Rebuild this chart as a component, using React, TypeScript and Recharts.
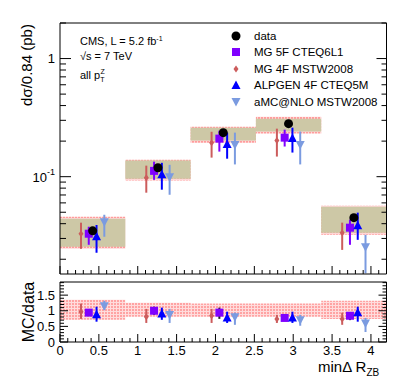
import React from 'react';
import { ComposedChart, XAxis, YAxis, Scatter, ErrorBar, ReferenceArea } from 'recharts';

// binning in min dR(Z,b)
const binEdges = [0, 0.84, 1.68, 2.52, 3.36, 4.2];
const binCenters = [0.42, 1.26, 2.1, 2.94, 3.78];
const mcOffsets = [-0.15, -0.05, 0.05, 0.15]; // MG4, MG5, ALPGEN, aMC@NLO

// data (pb), stat band and total band
const dataVal = [0.0348, 0.119, 0.236, 0.281, 0.045];
const statLo = [0.0255, 0.096, 0.202, 0.241, 0.0335];
const statHi = [0.044, 0.137, 0.26, 0.31, 0.0556];
const totLo = [0.0245, 0.093, 0.194, 0.232, 0.0322];
const totHi = [0.0458, 0.139, 0.265, 0.322, 0.0568];

// predictions
const mg5Val = [0.0329, 0.112, 0.21, 0.214, 0.037];
const mg5Lo = [0.0265, 0.094, 0.163, 0.18, 0.0265];
const mg5Hi = [0.0377, 0.134, 0.245, 0.25, 0.0433];

const mg4Val = [0.0329, 0.098, 0.194, 0.202, 0.0335];
const mg4Lo = [0.0245, 0.0732, 0.145, 0.148, 0.024];
const mg4Hi = [0.0408, 0.124, 0.24, 0.255, 0.0408];

const alpVal = [0.031, 0.104, 0.187, 0.21, 0.0385];
const alpLo = [0.0227, 0.0776, 0.142, 0.16, 0.0292];
const alpHi = [0.039, 0.131, 0.236, 0.26, 0.0496];

const amcVal = [0.0415, 0.1, 0.187, 0.187, 0.0255];
const amcLo = [0.031, 0.0703, 0.127, 0.127, 0.0152];
const amcHi = [0.0476, 0.126, 0.236, 0.241, 0.0322];

// ratio MC/data
const ratioBandLo = [0.71, 0.81, 0.81, 0.81, 0.74];
const ratioBandHi = [1.35, 1.26, 1.23, 1.23, 1.32];

const mg4R = [0.97, 0.81, 0.84, 0.74, 0.74];
const mg4RLo = [0.74, 0.61, 0.61, 0.61, 0.55];
const mg4RHi = [1.23, 1.06, 1.06, 0.87, 0.94];

const mg5R = [0.94, 1.0, 0.94, 0.77, 0.84];
const mg5RLo = [0.85, 0.87, 0.74, 0.7, 0.7];
const mg5RHi = [1.05, 1.13, 1.1, 0.85, 0.94];

const alpR = [0.87, 0.9, 0.77, 0.77, 0.94];
const alpRLo = [0.65, 0.71, 0.61, 0.61, 0.65];
const alpRHi = [1.13, 1.1, 0.97, 0.97, 1.13];

const amcR = [1.16, 0.88, 0.81, 0.71, 0.61];
const amcRLo = [1.03, 0.61, 0.55, 0.52, 0.32];
const amcRHi = [1.32, 1.06, 0.94, 0.87, 0.77];

// ticks
const xMajor = [0, 0.5, 1, 1.5, 2, 2.5, 3, 3.5, 4];
const xAll = Array.from({ length: 43 }, (_, i) => i / 10);
const yTopMajor = [0.1, 1];
const yTopAll = [0.02, 0.03, 0.04, 0.05, 0.06, 0.07, 0.08, 0.09, 0.1, 0.2, 0.3, 0.4, 0.5, 0.6, 0.7, 0.8, 0.9, 1, 2];
const yRatioMajor = [0, 0.5, 1, 1.5];
const yRatioAll = Array.from({ length: 20 }, (_, i) => i / 10);

const FONT = '"Liberation Sans", Arial, Helvetica, sans-serif';
const C_MG5 = '#7f00ff';
const C_MG4 = '#cc5c5c';
const C_ALP = '#0000ff';
const C_AMC = '#7b9be0';
const KHAKI = '#cdc8a6';

type Side = 'left' | 'right' | 'top' | 'bottom';

const isIn = (arr: number[], v: number) => arr.some((m) => Math.abs(m - v) < 1e-9);

const makeTick = (side: Side, majors: number[], majorLen: number, minorLen: number, label?: (v: number) => React.ReactNode) =>
  (props: any) => {
    const { x, y, payload } = props;
    const v = payload.value;
    const major = isIn(majors, v);
    const len = major ? majorLen : minorLen;
    let x2 = x;
    let y2 = y;
    if (side === 'left') x2 = x + len;
    if (side === 'right') x2 = x - len;
    if (side === 'top') y2 = y + len;
    if (side === 'bottom') y2 = y - len;
    return (
      <g>
        <line x1={x} y1={y} x2={x2} y2={y2} stroke="#000" strokeWidth={1} />
        {major && label && side === 'left' && (
          <text x={x - 5} y={y} textAnchor="end" dominantBaseline="central" fontSize={13} fontFamily={FONT} fill="#000">
            {label(v)}
          </text>
        )}
        {major && label && side === 'bottom' && (
          <text x={x} y={y + 8} textAnchor="middle" dominantBaseline="central" fontSize={13} fontFamily={FONT} fill="#000">
            {label(v)}
          </text>
        )}
      </g>
    );
  };

const topLabel = (v: number) =>
  v === 1 ? '1' : (
    <>
      <tspan>10</tspan>
      <tspan dy={-5} fontSize={9}>-1</tspan>
    </>
  );
const plainLabel = (v: number) => String(v);

const tickTopLeft = makeTick('left', yTopMajor, 11, 6, topLabel);
const tickTopRight = makeTick('right', yTopMajor, 10, 5);
const tickTopBottom = makeTick('bottom', xMajor, 8, 4);
const tickTopTop = makeTick('top', xMajor, 8, 4);
const tickRatioLeft = makeTick('left', yRatioMajor, 8, 4, plainLabel);
const tickRatioRight = makeTick('right', yRatioMajor, 8, 4);
const tickRatioBottom = makeTick('bottom', xMajor, 8, 4, plainLabel);

const pts = (off: number, v: number[], lo: number[], hi: number[]) =>
  binCenters.map((c, i) => ({ x: c + off, y: v[i], err: [v[i] - lo[i], hi[i] - v[i]] }));

const dataPts = binCenters.map((c, i) => ({ x: c, y: dataVal[i] }));

const Dot = (p: any) => <circle cx={p.cx} cy={p.cy} r={4.5} fill="#000" />;
const Square = (p: any) => <rect x={p.cx - 4} y={p.cy - 4} width={8} height={8} fill={C_MG5} />;
const Diamond = (p: any) => (
  <polygon points={`${p.cx},${p.cy - 3.5} ${p.cx + 2.5},${p.cy} ${p.cx},${p.cy + 3.5} ${p.cx - 2.5},${p.cy}`} fill={C_MG4} />
);
const TriUp = (p: any) => (
  <polygon points={`${p.cx},${p.cy - 5} ${p.cx + 4.5},${p.cy + 3.5} ${p.cx - 4.5},${p.cy + 3.5}`} fill={C_ALP} />
);
const TriDown = (p: any) => (
  <polygon points={`${p.cx},${p.cy + 5} ${p.cx + 4.5},${p.cy - 3.5} ${p.cx - 4.5},${p.cy - 3.5}`} fill={C_AMC} />
);

const W = 399;
const H = 387;
const LEFT = 60;
const RIGHT = 12.5;

// axes get a 1px band so they are drawn; margins are reduced by the same amount
const axisCommon = {
  tickSize: 0,
  tickMargin: 0,
  tickLine: false,
  interval: 0 as const,
  allowDataOverflow: true,
  axisLine: { stroke: '#000', strokeWidth: 1 },
};

const series = (
  yId: string,
  sets: { v: number[]; lo: number[]; hi: number[]; off: number; color: string; shape: any; name: string }[],
) =>
  sets.map((s) => (
    <Scatter
      key={s.name}
      name={s.name}
      data={pts(s.off, s.v, s.lo, s.hi)}
      xAxisId="b"
      yAxisId={yId}
      shape={s.shape}
      isAnimationActive={false}
    >
      <ErrorBar dataKey="err" direction="y" width={0} stroke={s.color} strokeWidth={2} />
    </Scatter>
  ));

const TopChart = () => (
  <ComposedChart width={W} height={H} margin={{ top: 22, right: RIGHT - 1, bottom: H - 274 - 1, left: LEFT - 1 }}>
    <defs>
      <pattern id="pinkHatch" width={3} height={3} patternUnits="userSpaceOnUse">
        <rect width={3} height={3} fill="#ffd6d6" />
        <rect width={2} height={2} fill="#ff9c9c" />
      </pattern>
    </defs>
    <XAxis xAxisId="b" type="number" dataKey="x" domain={[0, 4.2]} ticks={xAll} height={1} tick={tickTopBottom} {...axisCommon} />
    <XAxis xAxisId="t" orientation="top" type="number" domain={[0, 4.2]} ticks={xAll} height={1} tick={tickTopTop} {...axisCommon} />
    <YAxis yAxisId="l" type="number" dataKey="y" scale="log" domain={[0.015, 2]} ticks={yTopAll} width={1} tick={tickTopLeft} {...axisCommon} />
    <YAxis yAxisId="r" orientation="right" type="number" scale="log" domain={[0.015, 2]} ticks={yTopAll} width={1} tick={tickTopRight} {...axisCommon} />
    {binCenters.map((_, i) => (
      <ReferenceArea key={`tot${i}`} xAxisId="b" yAxisId="l" x1={binEdges[i]} x2={binEdges[i + 1]} y1={totLo[i]} y2={totHi[i]} fill="url(#pinkHatch)" fillOpacity={1} stroke="none" />
    ))}
    {binCenters.map((_, i) => (
      <ReferenceArea key={`stat${i}`} xAxisId="b" yAxisId="l" x1={binEdges[i]} x2={binEdges[i + 1]} y1={statLo[i]} y2={statHi[i]} fill={KHAKI} fillOpacity={1} stroke="none" />
    ))}
    {series('l', [
      { v: mg4Val, lo: mg4Lo, hi: mg4Hi, off: mcOffsets[0], color: C_MG4, shape: Diamond, name: 'MG 4F MSTW2008' },
      { v: mg5Val, lo: mg5Lo, hi: mg5Hi, off: mcOffsets[1], color: C_MG5, shape: Square, name: 'MG 5F CTEQ6L1' },
      { v: alpVal, lo: alpLo, hi: alpHi, off: mcOffsets[2], color: C_ALP, shape: TriUp, name: 'ALPGEN 4F CTEQ5M' },
      { v: amcVal, lo: amcLo, hi: amcHi, off: mcOffsets[3], color: C_AMC, shape: TriDown, name: 'aMC@NLO MSTW2008' },
    ])}
    <Scatter name="data" data={dataPts} xAxisId="b" yAxisId="l" shape={Dot} isAnimationActive={false} />
  </ComposedChart>
);

const RatioChart = () => (
  <ComposedChart width={W} height={H} margin={{ top: 281, right: RIGHT - 1, bottom: H - 342 - 1, left: LEFT - 1 }}>
    <defs>
      <pattern id="pinkHatch2" width={3} height={3} patternUnits="userSpaceOnUse">
        <rect width={3} height={3} fill="#ffdcdc" />
        <rect width={2} height={2} fill="#ffa3a3" />
      </pattern>
    </defs>
    <XAxis xAxisId="b" type="number" dataKey="x" domain={[0, 4.2]} ticks={xAll} height={1} tick={tickRatioBottom} {...axisCommon} />
    <XAxis xAxisId="t" orientation="top" type="number" domain={[0, 4.2]} ticks={[0, 4.2]} height={1} tick={false} {...axisCommon} />
    <YAxis yAxisId="l" type="number" dataKey="y" domain={[0, 1.92]} ticks={yRatioAll} width={1} tick={tickRatioLeft} {...axisCommon} />
    <YAxis yAxisId="r" orientation="right" type="number" domain={[0, 1.92]} ticks={yRatioAll} width={1} tick={tickRatioRight} {...axisCommon} />
    {binCenters.map((_, i) => (
      <ReferenceArea key={`rb${i}`} xAxisId="b" yAxisId="l" x1={binEdges[i]} x2={binEdges[i + 1]} y1={ratioBandLo[i]} y2={ratioBandHi[i]} fill="url(#pinkHatch2)" fillOpacity={1} stroke="none" />
    ))}
    {series('l', [
      { v: mg4R, lo: mg4RLo, hi: mg4RHi, off: mcOffsets[0], color: C_MG4, shape: Diamond, name: 'MG 4F MSTW2008' },
      { v: mg5R, lo: mg5RLo, hi: mg5RHi, off: mcOffsets[1], color: '#222', shape: Square, name: 'MG 5F CTEQ6L1' },
      { v: alpR, lo: alpRLo, hi: alpRHi, off: mcOffsets[2], color: C_ALP, shape: TriUp, name: 'ALPGEN 4F CTEQ5M' },
      { v: amcR, lo: amcRLo, hi: amcRHi, off: mcOffsets[3], color: C_AMC, shape: TriDown, name: 'aMC@NLO MSTW2008' },
    ])}
  </ComposedChart>
);

const legendItems = [
  { name: 'data', icon: <circle cx={6} cy={6} r={4.5} fill="#000" /> },
  { name: 'MG 5F CTEQ6L1', icon: <rect x={2} y={2} width={8} height={8} fill={C_MG5} /> },
  { name: 'MG 4F MSTW2008', icon: <polygon points="6,2.5 8.5,6 6,9.5 3.5,6" fill={C_MG4} /> },
  { name: 'ALPGEN 4F CTEQ5M', icon: <polygon points="6,1.5 10.5,10 1.5,10" fill={C_ALP} /> },
  { name: 'aMC@NLO MSTW2008', icon: <polygon points="6,10.5 10.5,2 1.5,2" fill={C_AMC} /> },
];

const abs = (left: number, top: number, extra: React.CSSProperties = {}): React.CSSProperties => ({
  position: 'absolute',
  left,
  top,
  whiteSpace: 'nowrap',
  ...extra,
});

export default function App() {
  return (
    <div style={{ position: 'absolute', left: 0, top: 0, width: W, height: H, background: '#fff', fontFamily: FONT, color: '#000' }}>
      <div style={abs(0, 0)}>
        <TopChart />
      </div>
      <div style={abs(0, 0)}>
        <RatioChart />
      </div>

      {/* legend */}
      {legendItems.map((it, i) => (
        <div key={it.name} style={abs(230, 35.5 + i * 16.6 - 7, { fontSize: 11.5, lineHeight: '14px', display: 'flex', alignItems: 'center' })}>
          <svg width={12} height={12} style={{ marginRight: 12 }}>
            {it.icon}
          </svg>
          <span>{it.name}</span>
        </div>
      ))}

      {/* annotation */}
      <div style={abs(80, 31, { fontSize: 11, lineHeight: '15px' })}>
        <div>
          CMS, L = 5.2 fb<sup style={{ fontSize: 7, verticalAlign: 4 }}>-1</sup>
        </div>
        <div>√s = 7 TeV</div>
        <div>
          all p<sub style={{ fontSize: 7, verticalAlign: -3 }}>T</sub>
          <sup style={{ fontSize: 7, verticalAlign: 5, marginLeft: -4 }}>Z</sup>
        </div>
      </div>

      {/* axis titles */}
      <div style={abs(26, 65, { fontSize: 15, transform: 'translate(-50%, -50%) rotate(-90deg)' })}>dσ/0.84 (pb)</div>
      <div style={abs(29, 312, { fontSize: 16, transform: 'translate(-50%, -50%) rotate(-90deg)' })}>MC/data</div>
      <div style={abs(318, 360, { fontSize: 15, lineHeight: '13px' })}>
        minΔ R<sub style={{ fontSize: 10, verticalAlign: -4, lineHeight: '10px' }}>ZB</sub>
      </div>
    </div>
  );
}
